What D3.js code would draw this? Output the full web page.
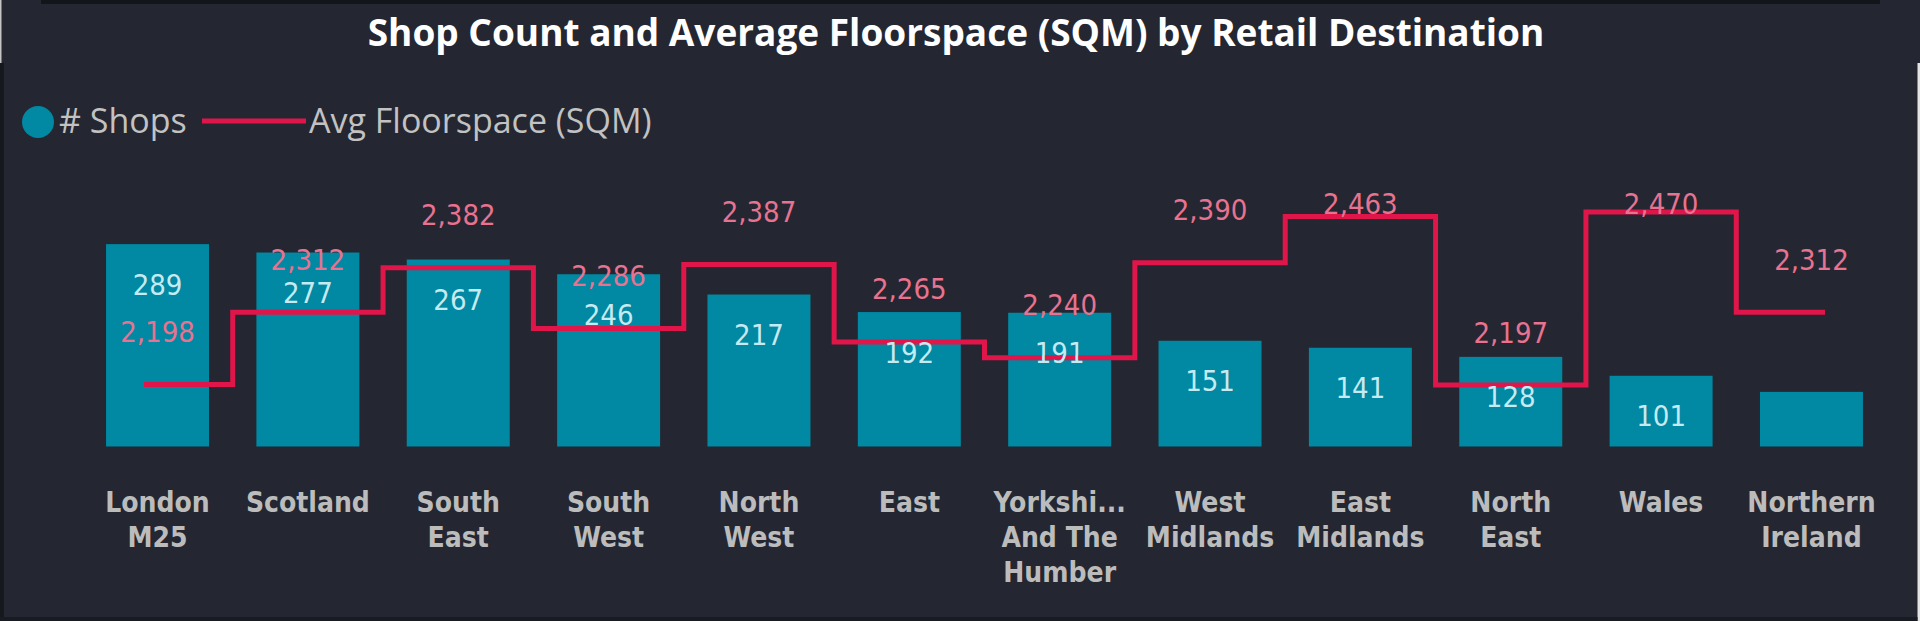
<!DOCTYPE html>
<html>
<head>
<meta charset="utf-8">
<script src="https://cdn.jsdelivr.net/npm/d3@7/dist/d3.min.js"></script>
<style>
	html, body { margin: 0; padding: 0; background: #242731; overflow: hidden; }
	svg { display: block; }
</style>
</head>
<body>
<svg id="chart" width="1920" height="621"></svg>
<script>
// shop count (bars) and avg floorspace (step line) by retail destination
var categories = ['London M25', 'Scotland', 'South East', 'South West', 'North West', 'East',
	'Yorkshire And The Humber', 'West Midlands', 'East Midlands', 'North East', 'Wales', 'Northern Ireland'];
var tickLabels = [['London', 'M25'], ['Scotland'], ['South', 'East'], ['South', 'West'], ['North', 'West'], ['East'],
	['Yorkshi...', 'And The', 'Humber'], ['West', 'Midlands'], ['East', 'Midlands'], ['North', 'East'], ['Wales'], ['Northern', 'Ireland']];
var shops = [289, 277, 267, 246, 217, 192, 191, 151, 141, 128, 101, 78];
var floorspace = [2198, 2312, 2382, 2286, 2387, 2265, 2240, 2390, 2463, 2197, 2470, 2312];
var shopLabels = [true, true, true, true, true, true, true, true, true, true, true, false];
var legendItems = ['# Shops', 'Avg Floorspace (SQM)'];
var title = 'Shop Count and Average Floorspace (SQM) by Retail Destination';

var svg = d3.select('#chart'),
	W = 1920, H = 621,
	numFont = '"DejaVu Sans Condensed", "DejaVu Sans", sans-serif',
	uiFont = '"Open Sans", "Noto Sans", sans-serif';

// frame bits from the report canvas
svg.append('rect').attr('x', 0).attr('y', 0).attr('width', W).attr('height', H).attr('fill', '#242731');
svg.append('rect').attr('x', 41).attr('y', 0).attr('width', 1839).attr('height', 4).attr('fill', '#121519');
svg.append('rect').attr('x', 0).attr('y', 0).attr('width', 1.5).attr('height', 63).attr('fill', '#c4c4c4');
svg.append('rect').attr('x', 0).attr('y', 63).attr('width', 4).attr('height', H - 63).attr('fill', '#15181d');
svg.append('rect').attr('x', 1917.5).attr('y', 63).attr('width', 2.5).attr('height', H - 63).attr('fill', '#e4e4e4');
svg.append('rect').attr('x', 0).attr('y', 617).attr('width', 1917.5).attr('height', 4).attr('fill', '#181b21');

svg.append('text')
	.attr('x', 956).attr('y', 46)
	.attr('text-anchor', 'middle')
	.attr('font-family', uiFont).attr('font-weight', 700).attr('font-size', 37)
	.attr('fill', '#ffffff')
	.text(title);

// legend
var legend = svg.append('g').attr('class', 'legend');
legend.append('circle').attr('cx', 38).attr('cy', 122).attr('r', 16).attr('fill', '#0188a2');
legend.append('text').attr('x', 59).attr('y', 133)
	.attr('font-family', uiFont).attr('font-size', 34).attr('fill', '#c2c2c2')
	.text(legendItems[0]);
legend.append('line').attr('x1', 202).attr('x2', 306).attr('y1', 121).attr('y2', 121)
	.attr('stroke', '#e0154a').attr('stroke-width', 5);
legend.append('text').attr('x', 309).attr('y', 133)
	.attr('font-family', uiFont).attr('font-size', 34).attr('fill', '#c2c2c2')
	.text(legendItems[1]);

var x = d3.scaleBand()
	.domain(categories)
	.range([91, 1878])
	.paddingInner(0.315)
	.paddingOuter(0.1);

var yBar = d3.scaleLinear().domain([0, 362]).range([446.5, 193]);
var yLine = d3.scaleLinear().domain([2100, 2500]).range([446.5, 193]);

var data = categories.map(function (c, i) {
	return { cat: c, shops: shops[i], floor: floorspace[i], ticks: tickLabels[i], showShop: shopLabels[i] };
});

svg.append('g').attr('class', 'bars')
	.selectAll('rect').data(data).enter().append('rect')
	.attr('x', function (d) { return x(d.cat); })
	.attr('y', function (d) { return yBar(d.shops); })
	.attr('width', x.bandwidth())
	.attr('height', function (d) { return yBar(0) - yBar(d.shops); })
	.attr('fill', '#0188a2');

// step line, nudged a little past the first and last centres like the source
var ext = x.step() * 0.09,
	pts = data.map(function (d) { return [x(d.cat) + x.bandwidth() / 2, yLine(d.floor)]; });
pts.unshift([pts[0][0] - ext, pts[0][1]]);
pts.push([pts[pts.length - 1][0] + ext, pts[pts.length - 1][1]]);

svg.append('path')
	.attr('d', d3.line().curve(d3.curveStep)(pts))
	.attr('fill', 'none')
	.attr('stroke', '#e0154a')
	.attr('stroke-width', 5)
	.attr('stroke-linejoin', 'miter');

svg.append('g').attr('class', 'bar-labels')
	.selectAll('text').data(data.filter(function (d) { return d.showShop; })).enter().append('text')
	.attr('x', function (d) { return x(d.cat) + x.bandwidth() / 2; })
	.attr('y', function (d) { return yBar(d.shops) + 50.5; })
	.attr('text-anchor', 'middle')
	.attr('font-family', numFont).attr('font-size', 29)
	.attr('fill', '#c6eaf1')
	.text(function (d) { return d3.format(',')(d.shops); });

// labels sit above the line but are kept inside the plot top
svg.append('g').attr('class', 'line-labels')
	.selectAll('text').data(data).enter().append('text')
	.attr('x', function (d) { return x(d.cat) + x.bandwidth() / 2; })
	.attr('y', function (d) { return Math.max(yLine(d.floor) - 42.5, 213.5); })
	.attr('text-anchor', 'middle')
	.attr('font-family', numFont).attr('font-size', 29)
	.attr('fill', '#e8728f')
	.text(function (d) { return d3.format(',')(d.floor); });

// category axis, wrapped labels
var axis = svg.append('g').attr('class', 'x-axis')
	.selectAll('text').data(data).enter().append('text')
	.attr('x', function (d) { return x(d.cat) + x.bandwidth() / 2; })
	.attr('y', 512)
	.attr('text-anchor', 'middle')
	.attr('font-family', numFont).attr('font-weight', 700).attr('font-size', 28)
	.attr('fill', '#bcbcbc');
axis.each(function (d) {
	var t = d3.select(this);
	d.ticks.forEach(function (line, i) {
		t.append('tspan')
			.attr('x', x(d.cat) + x.bandwidth() / 2)
			.attr('dy', i ? 35 : 0)
			.text(line);
	});
});
</script>
</body>
</html>
